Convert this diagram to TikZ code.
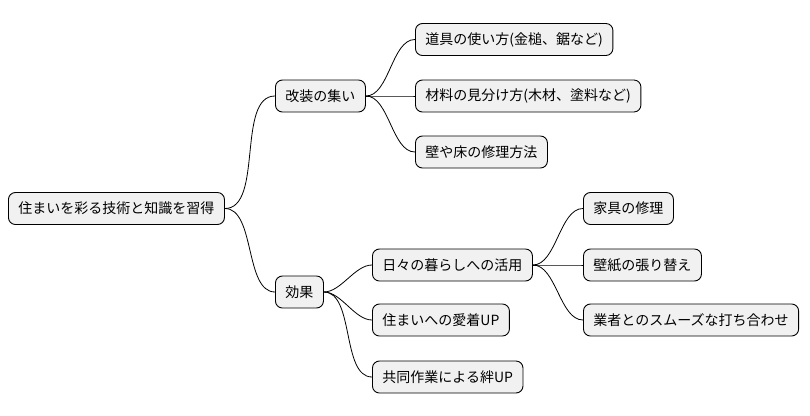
\documentclass[tikz,border=0pt]{standalone}
\usepackage{fontspec}
\setmainfont{Noto Sans CJK JP}
\begin{document}
\begin{tikzpicture}[x=1pt,y=-1pt,
  box/.style={draw=black,fill={rgb,255:red,241;green,241;blue,241},rounded corners=7pt,line width=0.9pt,
    anchor=west,minimum height=32pt,inner xsep=10pt,font=\fontsize{14}{16}\selectfont},
  con/.style={line width=0.8pt,out=0,in=180,looseness=0.8}]
\useasboundingbox (0,0) rectangle (810,415);
\node[box] (r) at (8,208.5) {住まいを彩る技術と知識を習得};
\node[box] (a) at (275,96) {改装の集い};
\node[box] (b) at (275,292) {効果};
\node[box] (a1) at (415,39.5) {道具の使い方(金槌、鋸など)};
\node[box] (a2) at (415,96) {材料の見分け方(木材、塗料など)};
\node[box] (a3) at (415,152) {壁や床の修理方法};
\node[box] (b1) at (372,265) {日々の暮らしへの活用};
\node[box] (b2) at (372,320) {住まいへの愛着UP};
\node[box] (b3) at (372,377) {共同作業による絆UP};
\node[box] (c1) at (583,208.5) {家具の修理};
\node[box] (c2) at (583,265) {壁紙の張り替え};
\node[box] (c3) at (583,320) {業者とのスムーズな打ち合わせ};
\foreach \p/\c in {r/a,r/b,a/a1,a/a2,a/a3,b/b1,b/b2,b/b3,b1/c1,b1/c2,b1/c3}
  \draw[con] (\p.east) to (\c.west);
\end{tikzpicture}
\end{document}
